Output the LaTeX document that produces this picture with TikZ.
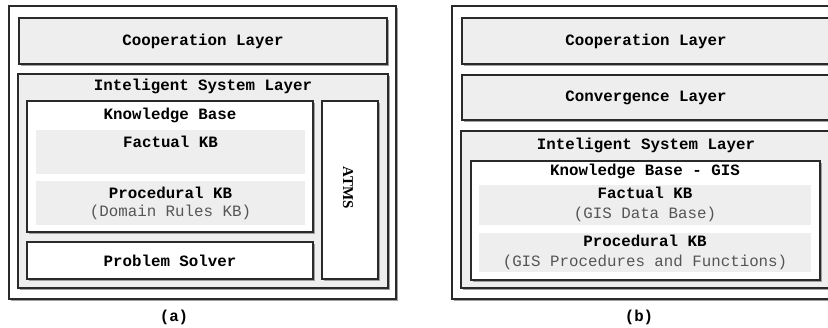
\documentclass[tikz,border=0pt]{standalone}
\usepackage{fontspec}
\setmonofont{Liberation Mono}
\newfontfamily\atmsfont{Liberation Serif}
\usetikzlibrary{shadows}
\definecolor{lyr}{HTML}{EEEEEE}
\definecolor{edge}{HTML}{2A2A2A}
\definecolor{shd}{HTML}{A0A0A0}
\definecolor{subt}{HTML}{555555}
\tikzset{
  box/.style={draw=edge, line width=1.4pt, inner sep=0pt, outer sep=0pt,
    drop shadow={shadow xshift=2pt, shadow yshift=-2pt, fill=shd, opacity=1}},
  layerbox/.style={box, fill=lyr},
  whitebox/.style={box, fill=white},
  panel/.style={fill=lyr, draw=none, inner sep=0pt, outer sep=0pt},
  ttl/.style={font=\fontsize{15.8}{18}\selectfont\ttfamily\bfseries, text=black, inner sep=0pt},
  sub/.style={font=\fontsize{15.8}{18}\selectfont\ttfamily, text=subt, inner sep=0pt},
}
\newcommand{\bx}[6]{\node[#1, minimum width=#4pt, minimum height=#5pt] (#6) at (#2,#3) {};}
\begin{document}
\begin{tikzpicture}[x=1pt,y=-1pt]
\clip (0,0) rectangle (828,328);
\fill[white] (0,0) rectangle (828,328);
% ---------- panel (a) ----------
\bx{whitebox}{202.5}{152.5}{387}{293}{outerA}
\bx{layerbox}{203}{41}{368}{46}{coopA}
\node[ttl] (coopAt) at (coopA.center) {Cooperation Layer};
\bx{layerbox}{203}{181}{370}{214}{islA}
\node[ttl] (islAt) at (203,86) {Inteligent System Layer};
\bx{whitebox}{170}{166.5}{286}{131}{kbA}
\node[ttl] (kbAt) at (170,115) {Knowledge Base};
\bx{panel}{170.5}{152}{269}{44}{factA}
\node[ttl] (factAt) at (170.5,142) {Factual KB};
\bx{panel}{170.5}{203}{269}{44}{procA}
\node[ttl] (procAt) at (170.5,193) {Procedural KB};
\node[sub] (procAs) at (170.5,212) {(Domain Rules KB)};
\bx{whitebox}{170}{260.5}{286}{37}{psA}
\node[ttl] (psAt) at (psA.center) {Problem Solver};
\bx{whitebox}{350}{190}{56}{178}{atms}
\node[font=\fontsize{15}{18}\selectfont\atmsfont\bfseries, text=black, rotate=-90, inner sep=0pt] (atmst) at (348,188) {ATMS};
\node[ttl] (capA) at (174,317) {(a)};
% ---------- panel (b) ----------
\bx{whitebox}{646}{152.5}{388}{293}{outerB}
\bx{layerbox}{646}{41}{368}{46}{coopB}
\node[ttl] (coopBt) at (coopB.center) {Cooperation Layer};
\bx{layerbox}{646}{97.5}{368}{45}{convB}
\node[ttl] (convBt) at (convB.center) {Convergence Layer};
\bx{layerbox}{646}{209.5}{370}{157}{islB}
\node[ttl] (islBt) at (646,145) {Inteligent System Layer};
\bx{whitebox}{645.5}{220.5}{349}{119}{kbB}
\node[ttl] (kbBt) at (645,171) {Knowledge Base - GIS};
\bx{panel}{645}{205}{332}{40}{factB}
\node[ttl] (factBt) at (645,193) {Factual KB};
\node[sub] (factBs) at (645,214) {(GIS Data Base)};
\bx{panel}{645}{252.5}{332}{39}{procB}
\node[ttl] (procBt) at (645,241) {Procedural KB};
\node[sub] (procBs) at (645,262) {(GIS Procedures and Functions)};
\node[ttl] (capB) at (639,317) {(b)};
\end{tikzpicture}
\end{document}
